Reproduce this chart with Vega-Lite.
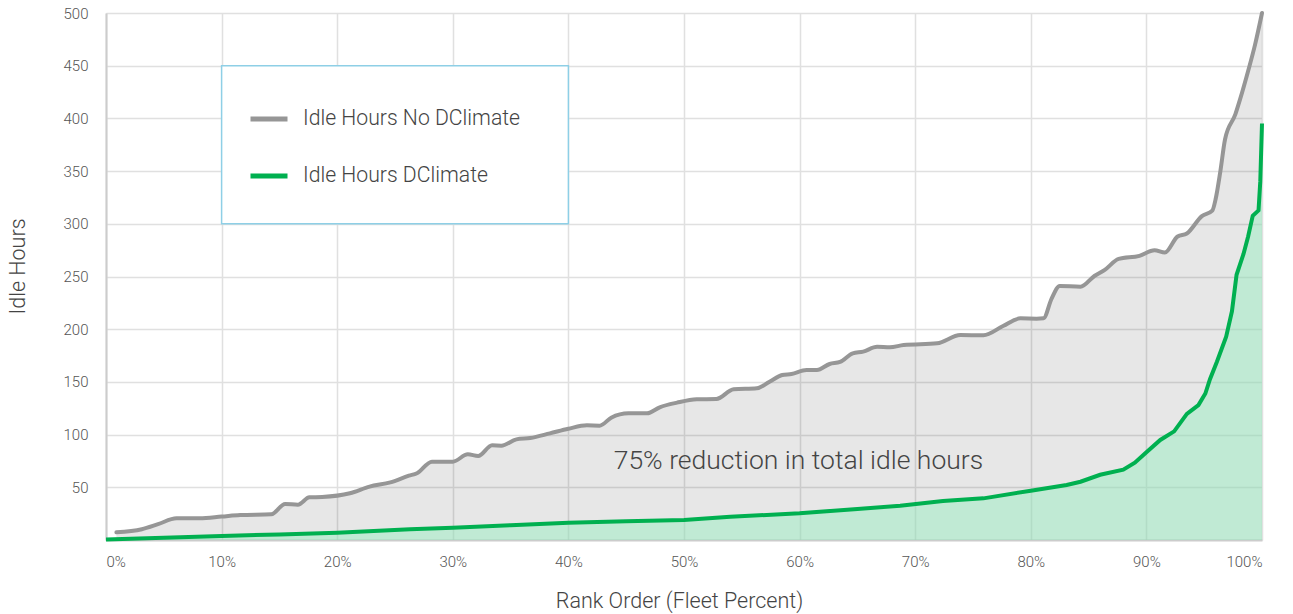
{
  "$schema": "https://vega.github.io/schema/vega-lite/v6.json",
  "width": 1156,
  "height": 527,
  "autosize": {"type": "none"},
  "padding": {"left": 106, "top": 13, "right": 31, "bottom": 74},
  "background": "white",
  "config": {
    "view": {"stroke": null},
    "font": "Roboto",
    "axis": {
      "labelFont": "Roboto",
      "labelFontWeight": 300,
      "labelFontSize": 15,
      "labelColor": "#555555",
      "titleFont": "Roboto",
      "titleFontWeight": 300,
      "titleFontSize": 21.5,
      "titleColor": "#444444",
      "ticks": false,
      "domainColor": "#cccccc",
      "domainWidth": 2,
      "gridColor": "#e0e0e0",
      "gridWidth": 1.5
    }
  },
  "datasets": {
    "curves": [
      {"series": "Idle Hours No DClimate", "pct": 0.9, "hours": 7.3},
      {"series": "Idle Hours No DClimate", "pct": 3.1, "hours": 10.2},
      {"series": "Idle Hours No DClimate", "pct": 4.5, "hours": 15},
      {"series": "Idle Hours No DClimate", "pct": 6.1, "hours": 20.6},
      {"series": "Idle Hours No DClimate", "pct": 8.1, "hours": 20.6},
      {"series": "Idle Hours No DClimate", "pct": 10, "hours": 22.2},
      {"series": "Idle Hours No DClimate", "pct": 11.6, "hours": 23.7},
      {"series": "Idle Hours No DClimate", "pct": 14.3, "hours": 24.4},
      {"series": "Idle Hours No DClimate", "pct": 15.5, "hours": 34.2},
      {"series": "Idle Hours No DClimate", "pct": 16.6, "hours": 33.5},
      {"series": "Idle Hours No DClimate", "pct": 17.6, "hours": 40.5},
      {"series": "Idle Hours No DClimate", "pct": 18.7, "hours": 40.8},
      {"series": "Idle Hours No DClimate", "pct": 21.1, "hours": 44.3},
      {"series": "Idle Hours No DClimate", "pct": 22.8, "hours": 50.6},
      {"series": "Idle Hours No DClimate", "pct": 24.6, "hours": 54.7},
      {"series": "Idle Hours No DClimate", "pct": 26.2, "hours": 61},
      {"series": "Idle Hours No DClimate", "pct": 26.9, "hours": 63.3},
      {"series": "Idle Hours No DClimate", "pct": 28.2, "hours": 74.3},
      {"series": "Idle Hours No DClimate", "pct": 30, "hours": 74.3},
      {"series": "Idle Hours No DClimate", "pct": 31.3, "hours": 81.3},
      {"series": "Idle Hours No DClimate", "pct": 32.2, "hours": 79.7},
      {"series": "Idle Hours No DClimate", "pct": 33.4, "hours": 89.8},
      {"series": "Idle Hours No DClimate", "pct": 34.2, "hours": 89.5},
      {"series": "Idle Hours No DClimate", "pct": 35.5, "hours": 95.5},
      {"series": "Idle Hours No DClimate", "pct": 36.7, "hours": 96.8},
      {"series": "Idle Hours No DClimate", "pct": 38.4, "hours": 101.2},
      {"series": "Idle Hours No DClimate", "pct": 40, "hours": 105.6},
      {"series": "Idle Hours No DClimate", "pct": 41.6, "hours": 108.8},
      {"series": "Idle Hours No DClimate", "pct": 42.7, "hours": 108.5},
      {"series": "Idle Hours No DClimate", "pct": 43.7, "hours": 116},
      {"series": "Idle Hours No DClimate", "pct": 45.2, "hours": 120.2},
      {"series": "Idle Hours No DClimate", "pct": 46.8, "hours": 120.2},
      {"series": "Idle Hours No DClimate", "pct": 47.9, "hours": 125.9},
      {"series": "Idle Hours No DClimate", "pct": 49.4, "hours": 130.3},
      {"series": "Idle Hours No DClimate", "pct": 51.1, "hours": 133.5},
      {"series": "Idle Hours No DClimate", "pct": 52.8, "hours": 133.8},
      {"series": "Idle Hours No DClimate", "pct": 54.3, "hours": 143},
      {"series": "Idle Hours No DClimate", "pct": 56.3, "hours": 143.9},
      {"series": "Idle Hours No DClimate", "pct": 57.4, "hours": 150.2},
      {"series": "Idle Hours No DClimate", "pct": 58.5, "hours": 156.5},
      {"series": "Idle Hours No DClimate", "pct": 59.3, "hours": 157.5},
      {"series": "Idle Hours No DClimate", "pct": 60.6, "hours": 161.3},
      {"series": "Idle Hours No DClimate", "pct": 61.5, "hours": 161.3},
      {"series": "Idle Hours No DClimate", "pct": 62.6, "hours": 167},
      {"series": "Idle Hours No DClimate", "pct": 63.5, "hours": 168.9},
      {"series": "Idle Hours No DClimate", "pct": 64.6, "hours": 177.1},
      {"series": "Idle Hours No DClimate", "pct": 65.5, "hours": 178.7},
      {"series": "Idle Hours No DClimate", "pct": 66.7, "hours": 183.4},
      {"series": "Idle Hours No DClimate", "pct": 67.8, "hours": 182.8},
      {"series": "Idle Hours No DClimate", "pct": 69, "hours": 185},
      {"series": "Idle Hours No DClimate", "pct": 71.9, "hours": 186.6},
      {"series": "Idle Hours No DClimate", "pct": 73.9, "hours": 194.5},
      {"series": "Idle Hours No DClimate", "pct": 75.9, "hours": 194.2},
      {"series": "Idle Hours No DClimate", "pct": 77.6, "hours": 203},
      {"series": "Idle Hours No DClimate", "pct": 79.1, "hours": 210.3},
      {"series": "Idle Hours No DClimate", "pct": 80.5, "hours": 210},
      {"series": "Idle Hours No DClimate", "pct": 81.1, "hours": 210.3},
      {"series": "Idle Hours No DClimate", "pct": 81.8, "hours": 229},
      {"series": "Idle Hours No DClimate", "pct": 82.5, "hours": 241},
      {"series": "Idle Hours No DClimate", "pct": 84.3, "hours": 240.3},
      {"series": "Idle Hours No DClimate", "pct": 85.5, "hours": 250.5},
      {"series": "Idle Hours No DClimate", "pct": 86.4, "hours": 256.3},
      {"series": "Idle Hours No DClimate", "pct": 87.6, "hours": 266.7},
      {"series": "Idle Hours No DClimate", "pct": 89.4, "hours": 269.6},
      {"series": "Idle Hours No DClimate", "pct": 90.7, "hours": 275},
      {"series": "Idle Hours No DClimate", "pct": 91.6, "hours": 272.7},
      {"series": "Idle Hours No DClimate", "pct": 92.7, "hours": 288},
      {"series": "Idle Hours No DClimate", "pct": 93.5, "hours": 290.8},
      {"series": "Idle Hours No DClimate", "pct": 94.8, "hours": 307.3},
      {"series": "Idle Hours No DClimate", "pct": 95.7, "hours": 312.5},
      {"series": "Idle Hours No DClimate", "pct": 96, "hours": 324},
      {"series": "Idle Hours No DClimate", "pct": 96.4, "hours": 350},
      {"series": "Idle Hours No DClimate", "pct": 96.8, "hours": 380},
      {"series": "Idle Hours No DClimate", "pct": 97.7, "hours": 404},
      {"series": "Idle Hours No DClimate", "pct": 98.1, "hours": 418},
      {"series": "Idle Hours No DClimate", "pct": 98.8, "hours": 445},
      {"series": "Idle Hours No DClimate", "pct": 99.4, "hours": 470},
      {"series": "Idle Hours No DClimate", "pct": 100, "hours": 500},
      {"series": "Idle Hours DClimate", "pct": 0, "hours": 0.5},
      {"series": "Idle Hours DClimate", "pct": 5, "hours": 2.2},
      {"series": "Idle Hours DClimate", "pct": 10, "hours": 3.8},
      {"series": "Idle Hours DClimate", "pct": 15, "hours": 5.3},
      {"series": "Idle Hours DClimate", "pct": 20, "hours": 6.9},
      {"series": "Idle Hours DClimate", "pct": 26.3, "hours": 10.1},
      {"series": "Idle Hours DClimate", "pct": 30, "hours": 11.7},
      {"series": "Idle Hours DClimate", "pct": 35, "hours": 14},
      {"series": "Idle Hours DClimate", "pct": 40, "hours": 16.4},
      {"series": "Idle Hours DClimate", "pct": 45, "hours": 17.7},
      {"series": "Idle Hours DClimate", "pct": 50, "hours": 19},
      {"series": "Idle Hours DClimate", "pct": 54, "hours": 22.1},
      {"series": "Idle Hours DClimate", "pct": 60, "hours": 25.3},
      {"series": "Idle Hours DClimate", "pct": 65, "hours": 29.5},
      {"series": "Idle Hours DClimate", "pct": 68.7, "hours": 32.5},
      {"series": "Idle Hours DClimate", "pct": 72.4, "hours": 37},
      {"series": "Idle Hours DClimate", "pct": 75.9, "hours": 39.5},
      {"series": "Idle Hours DClimate", "pct": 80, "hours": 46.8},
      {"series": "Idle Hours DClimate", "pct": 83.1, "hours": 52.2},
      {"series": "Idle Hours DClimate", "pct": 84.3, "hours": 55.3},
      {"series": "Idle Hours DClimate", "pct": 86, "hours": 61.9},
      {"series": "Idle Hours DClimate", "pct": 88, "hours": 66.8},
      {"series": "Idle Hours DClimate", "pct": 89, "hours": 73.4},
      {"series": "Idle Hours DClimate", "pct": 90, "hours": 83.3},
      {"series": "Idle Hours DClimate", "pct": 91.2, "hours": 94.9},
      {"series": "Idle Hours DClimate", "pct": 92.4, "hours": 103.1},
      {"series": "Idle Hours DClimate", "pct": 93.5, "hours": 119.6},
      {"series": "Idle Hours DClimate", "pct": 94.5, "hours": 128},
      {"series": "Idle Hours DClimate", "pct": 95.1, "hours": 139},
      {"series": "Idle Hours DClimate", "pct": 95.5, "hours": 152.6},
      {"series": "Idle Hours DClimate", "pct": 96.1, "hours": 169.2},
      {"series": "Idle Hours DClimate", "pct": 96.9, "hours": 193},
      {"series": "Idle Hours DClimate", "pct": 97.4, "hours": 217},
      {"series": "Idle Hours DClimate", "pct": 97.8, "hours": 251.6},
      {"series": "Idle Hours DClimate", "pct": 98.4, "hours": 271.4},
      {"series": "Idle Hours DClimate", "pct": 98.8, "hours": 288},
      {"series": "Idle Hours DClimate", "pct": 99.2, "hours": 307.7},
      {"series": "Idle Hours DClimate", "pct": 99.7, "hours": 312.7},
      {"series": "Idle Hours DClimate", "pct": 99.85, "hours": 340},
      {"series": "Idle Hours DClimate", "pct": 100, "hours": 395.2}
    ],
    "box": [{"x1": 10, "x2": 40, "y1": 300, "y2": 450}],
    "note": [{"pct": 59.9, "hours": 75, "label": "75% reduction in total idle hours"}]
  },
  "layer": [
    {
      "data": {"name": "curves"},
      "transform": [{"filter": "datum.series === 'Idle Hours No DClimate'"}],
      "mark": {"type": "area", "interpolate": "monotone", "fill": "#000000", "fillOpacity": 0.094},
      "encoding": {
        "x": {
          "field": "pct", "type": "quantitative",
          "scale": {"domain": [0, 100], "nice": false, "zero": false},
          "axis": {
            "values": [0, 10, 20, 30, 40, 50, 60, 70, 80, 90, 100],
            "labelExpr": "datum.value + '%'",
            "labelPadding": 14,
            "labelDx": 4,
            "grid": true,
            "title": "Rank Order (Fleet Percent)",
            "titleX": 573,
            "titleY": 61,
            "titleBaseline": "middle",
            "titleAlign": "center"
          }
        },
        "y": {
          "field": "hours", "type": "quantitative",
          "scale": {"domain": [0, 500], "nice": false},
          "axis": {
            "values": [50, 100, 150, 200, 250, 300, 350, 400, 450, 500],
            "labelPadding": 18,
            "labelDy": 3,
            "grid": true,
            "title": "Idle Hours",
            "titleAngle": 270,
            "titleX": -88,
            "titleY": 253,
            "titleAlign": "center",
            "titleBaseline": "middle"
          }
        }
      }
    },
    {
      "data": {"name": "curves"},
      "transform": [{"filter": "datum.series === 'Idle Hours DClimate'"}],
      "mark": {"type": "area", "interpolate": "linear", "fill": "#99edc1", "fillOpacity": 0.5},
      "encoding": {
        "x": {"field": "pct", "type": "quantitative"},
        "y": {"field": "hours", "type": "quantitative"}
      }
    },
    {
      "data": {"name": "curves"},
      "transform": [{"filter": "datum.series === 'Idle Hours No DClimate'"}],
      "mark": {"type": "line", "interpolate": "monotone", "strokeWidth": 4, "strokeCap": "round"},
      "encoding": {
        "x": {"field": "pct", "type": "quantitative"},
        "y": {"field": "hours", "type": "quantitative"},
        "color": {
          "field": "series", "type": "nominal",
          "scale": {"domain": ["Idle Hours No DClimate", "Idle Hours DClimate"], "range": ["#969696", "#00b050"]},
          "legend": {
            "orient": "none",
            "legendX": 142,
            "legendY": 85,
            "title": null,
            "padding": 0,
            "symbolType": "stroke",
            "symbolSize": 1369,
            "symbolStrokeWidth": 5,
            "labelFont": "Roboto",
            "labelFontWeight": 300,
            "labelFontSize": 21.2,
            "labelColor": "#444444",
            "labelOffset": 13,
            "rowPadding": 25,
            "labelLimit": 400
          }
        }
      }
    },
    {
      "data": {"name": "curves"},
      "transform": [{"filter": "datum.series === 'Idle Hours DClimate'"}],
      "mark": {"type": "line", "interpolate": "linear", "strokeWidth": 4},
      "encoding": {
        "x": {"field": "pct", "type": "quantitative"},
        "y": {"field": "hours", "type": "quantitative"},
        "color": {"field": "series", "type": "nominal"}
      }
    },
    {
      "data": {"name": "box"},
      "mark": {"type": "rect", "fill": "white", "stroke": "#8ecfe6", "strokeWidth": 1.5},
      "encoding": {
        "x": {"field": "x1", "type": "quantitative"},
        "x2": {"field": "x2"},
        "y": {"field": "y1", "type": "quantitative"},
        "y2": {"field": "y2"}
      }
    },
    {
      "data": {"name": "note"},
      "mark": {"type": "text", "font": "Roboto", "fontWeight": 300, "fontSize": 26.5, "color": "#444444", "align": "center", "baseline": "middle"},
      "encoding": {
        "x": {"field": "pct", "type": "quantitative"},
        "y": {"field": "hours", "type": "quantitative"},
        "text": {"field": "label"}
      }
    }
  ]
}
